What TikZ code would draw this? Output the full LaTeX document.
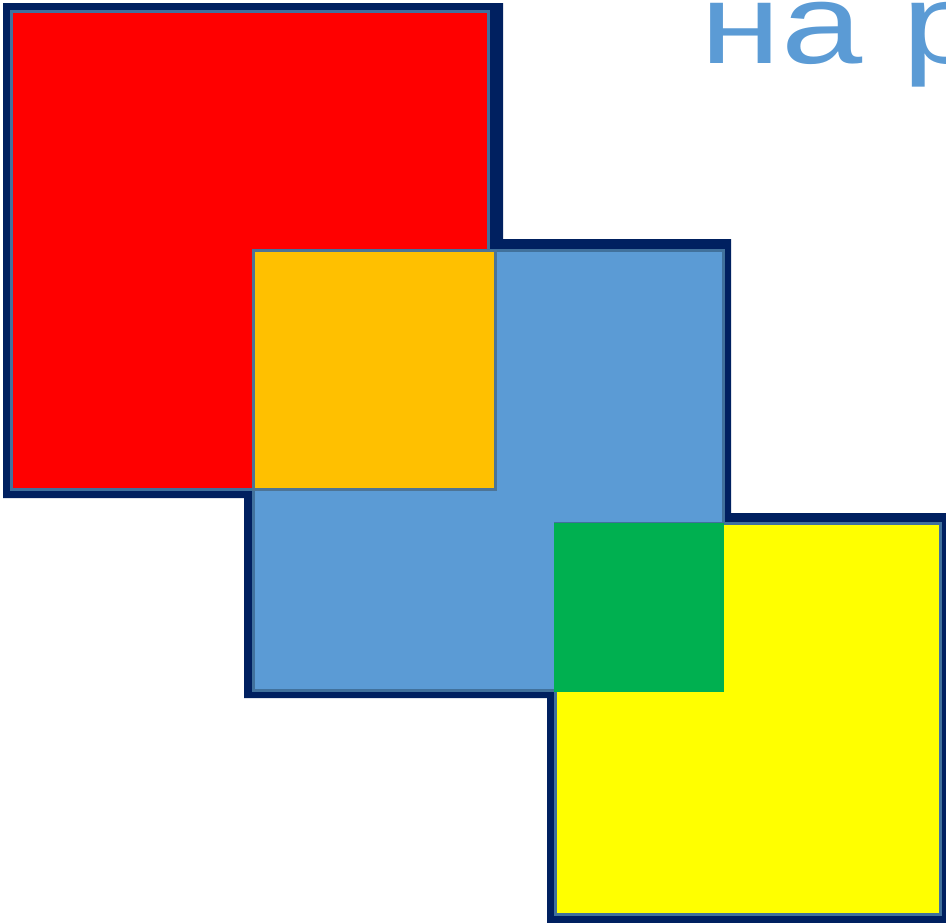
\documentclass[tikz,border=0pt]{standalone}
\usepackage{fontspec}
\setmainfont{Liberation Sans}
\definecolor{navy}{HTML}{002060}
\definecolor{edge}{HTML}{41719C}
\definecolor{sqred}{HTML}{FF0000}
\definecolor{sqblue}{HTML}{5B9BD5}
\definecolor{sqyellow}{HTML}{FFFF00}
\definecolor{sqorange}{HTML}{FFC000}
\definecolor{sqgreen}{HTML}{00B050}
\definecolor{textblue}{HTML}{5B9BD5}
\tikzset{
  square/.style={draw=edge, line width=3pt},
  overlap/.style={draw=edge!80!gray, line width=2.5pt},
}
\begin{document}
\begin{tikzpicture}[x=1pt,y=-1pt]
\useasboundingbox (0,0) rectangle (946,922);
\clip (0,0) rectangle (946,922);
% navy outline behind the union of squares
\fill[navy] (3,3) -- (503,3) -- (503,239) -- (731,239) -- (731,513)
  -- (950,513) -- (950,930) -- (547,930) -- (547,698) -- (244,698)
  -- (244,498) -- (3,498) -- cycle;
% squares
\draw[square, fill=sqred] (11.5,11.5) rectangle (488,489.5);
\draw[square, fill=sqblue] (253.5,250.5) rectangle (723.5,690);
\draw[square, fill=sqyellow] (555,523) rectangle (940.5,914.5);
% overlaps
\draw[overlap, fill=sqorange] (253.5,251) rectangle (495.5,489.5);
\fill[sqgreen] (554,523) rectangle (724,691.5);
% text
\node[anchor=base west, inner sep=0pt, text=textblue,
  font=\fontsize{114}{130}\selectfont] (title) at (700.5,63)
  {\scalebox{1.28}[1]{на р}};
\end{tikzpicture}
\end{document}
